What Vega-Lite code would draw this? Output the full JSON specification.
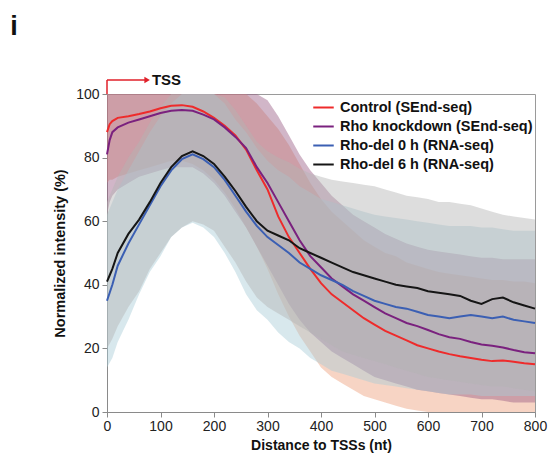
{
  "$schema": "https://vega.github.io/schema/vega-lite/v6.json",
  "width": 428,
  "height": 318,
  "autosize": {"type": "none"},
  "padding": {"left": 107, "top": 94, "right": 14, "bottom": 46},
  "background": "white",
  "config": {
    "font": "Liberation Sans",
    "view": {"stroke": "#9a9a9a", "strokeWidth": 1}
  },
  "resolve": {"scale": {"fill": "independent", "stroke": "independent"}, "legend": {"fill": "independent", "stroke": "independent"}},
  "datasets": {
    "curves": [
      {"s": "Control (SEnd-seq)", "x": 0, "y": 88, "lo": 72, "hi": 100},
      {"s": "Control (SEnd-seq)", "x": 5, "y": 90.5, "lo": 73, "hi": 100},
      {"s": "Control (SEnd-seq)", "x": 10, "y": 91.5, "lo": 73, "hi": 100},
      {"s": "Control (SEnd-seq)", "x": 20, "y": 92.5, "lo": 74, "hi": 100},
      {"s": "Control (SEnd-seq)", "x": 40, "y": 93, "lo": 75, "hi": 100},
      {"s": "Control (SEnd-seq)", "x": 60, "y": 93.7, "lo": 76, "hi": 100},
      {"s": "Control (SEnd-seq)", "x": 80, "y": 94.5, "lo": 77, "hi": 100},
      {"s": "Control (SEnd-seq)", "x": 100, "y": 95.5, "lo": 78, "hi": 100},
      {"s": "Control (SEnd-seq)", "x": 120, "y": 96.3, "lo": 79, "hi": 100},
      {"s": "Control (SEnd-seq)", "x": 140, "y": 96.5, "lo": 79, "hi": 100},
      {"s": "Control (SEnd-seq)", "x": 160, "y": 96, "lo": 78, "hi": 100},
      {"s": "Control (SEnd-seq)", "x": 180, "y": 94.5, "lo": 76, "hi": 100},
      {"s": "Control (SEnd-seq)", "x": 200, "y": 92.5, "lo": 73, "hi": 100},
      {"s": "Control (SEnd-seq)", "x": 220, "y": 90, "lo": 69, "hi": 100},
      {"s": "Control (SEnd-seq)", "x": 240, "y": 87, "lo": 64, "hi": 100},
      {"s": "Control (SEnd-seq)", "x": 260, "y": 82.5, "lo": 58, "hi": 100},
      {"s": "Control (SEnd-seq)", "x": 280, "y": 76, "lo": 52, "hi": 97},
      {"s": "Control (SEnd-seq)", "x": 300, "y": 70, "lo": 45, "hi": 93},
      {"s": "Control (SEnd-seq)", "x": 320, "y": 61.5, "lo": 37, "hi": 89},
      {"s": "Control (SEnd-seq)", "x": 340, "y": 55, "lo": 30, "hi": 84},
      {"s": "Control (SEnd-seq)", "x": 360, "y": 50, "lo": 24, "hi": 78},
      {"s": "Control (SEnd-seq)", "x": 380, "y": 45, "lo": 19, "hi": 72},
      {"s": "Control (SEnd-seq)", "x": 400, "y": 40.5, "lo": 14, "hi": 67},
      {"s": "Control (SEnd-seq)", "x": 420, "y": 37, "lo": 11, "hi": 63},
      {"s": "Control (SEnd-seq)", "x": 440, "y": 34.5, "lo": 9, "hi": 60},
      {"s": "Control (SEnd-seq)", "x": 460, "y": 32, "lo": 7, "hi": 57},
      {"s": "Control (SEnd-seq)", "x": 480, "y": 29.5, "lo": 5, "hi": 54},
      {"s": "Control (SEnd-seq)", "x": 500, "y": 27.5, "lo": 4, "hi": 52},
      {"s": "Control (SEnd-seq)", "x": 520, "y": 25.5, "lo": 3, "hi": 50},
      {"s": "Control (SEnd-seq)", "x": 540, "y": 24, "lo": 2, "hi": 49},
      {"s": "Control (SEnd-seq)", "x": 560, "y": 22.5, "lo": 1, "hi": 47},
      {"s": "Control (SEnd-seq)", "x": 580, "y": 21, "lo": 0.5, "hi": 46},
      {"s": "Control (SEnd-seq)", "x": 600, "y": 20, "lo": 0, "hi": 45},
      {"s": "Control (SEnd-seq)", "x": 620, "y": 19, "lo": 0, "hi": 44},
      {"s": "Control (SEnd-seq)", "x": 640, "y": 18.2, "lo": 0, "hi": 43.5},
      {"s": "Control (SEnd-seq)", "x": 660, "y": 17.5, "lo": 0, "hi": 43},
      {"s": "Control (SEnd-seq)", "x": 680, "y": 17, "lo": 0, "hi": 42.5},
      {"s": "Control (SEnd-seq)", "x": 700, "y": 16.4, "lo": 0, "hi": 42},
      {"s": "Control (SEnd-seq)", "x": 720, "y": 16, "lo": 0, "hi": 41.5},
      {"s": "Control (SEnd-seq)", "x": 740, "y": 16.2, "lo": 0, "hi": 41.5},
      {"s": "Control (SEnd-seq)", "x": 760, "y": 15.8, "lo": 0, "hi": 41},
      {"s": "Control (SEnd-seq)", "x": 780, "y": 15.3, "lo": 0, "hi": 41},
      {"s": "Control (SEnd-seq)", "x": 800, "y": 15, "lo": 0, "hi": 40.5},

      {"s": "Rho knockdown (SEnd-seq)", "x": 0, "y": 81, "lo": 62, "hi": 100},
      {"s": "Rho knockdown (SEnd-seq)", "x": 5, "y": 85.5, "lo": 66, "hi": 100},
      {"s": "Rho knockdown (SEnd-seq)", "x": 10, "y": 88, "lo": 68, "hi": 100},
      {"s": "Rho knockdown (SEnd-seq)", "x": 20, "y": 89.5, "lo": 70, "hi": 100},
      {"s": "Rho knockdown (SEnd-seq)", "x": 40, "y": 91, "lo": 72, "hi": 100},
      {"s": "Rho knockdown (SEnd-seq)", "x": 60, "y": 92, "lo": 74, "hi": 100},
      {"s": "Rho knockdown (SEnd-seq)", "x": 80, "y": 93, "lo": 75, "hi": 100},
      {"s": "Rho knockdown (SEnd-seq)", "x": 100, "y": 94, "lo": 76, "hi": 100},
      {"s": "Rho knockdown (SEnd-seq)", "x": 120, "y": 94.7, "lo": 77, "hi": 100},
      {"s": "Rho knockdown (SEnd-seq)", "x": 140, "y": 95, "lo": 77, "hi": 100},
      {"s": "Rho knockdown (SEnd-seq)", "x": 160, "y": 94.7, "lo": 77, "hi": 100},
      {"s": "Rho knockdown (SEnd-seq)", "x": 180, "y": 93.5, "lo": 75, "hi": 100},
      {"s": "Rho knockdown (SEnd-seq)", "x": 200, "y": 92, "lo": 72, "hi": 100},
      {"s": "Rho knockdown (SEnd-seq)", "x": 220, "y": 89.5, "lo": 68, "hi": 100},
      {"s": "Rho knockdown (SEnd-seq)", "x": 240, "y": 86.5, "lo": 63, "hi": 100},
      {"s": "Rho knockdown (SEnd-seq)", "x": 260, "y": 83, "lo": 58, "hi": 100},
      {"s": "Rho knockdown (SEnd-seq)", "x": 280, "y": 77, "lo": 52, "hi": 100},
      {"s": "Rho knockdown (SEnd-seq)", "x": 300, "y": 72, "lo": 46, "hi": 98},
      {"s": "Rho knockdown (SEnd-seq)", "x": 320, "y": 66, "lo": 40, "hi": 93},
      {"s": "Rho knockdown (SEnd-seq)", "x": 340, "y": 60, "lo": 34, "hi": 87},
      {"s": "Rho knockdown (SEnd-seq)", "x": 360, "y": 54, "lo": 29, "hi": 81},
      {"s": "Rho knockdown (SEnd-seq)", "x": 380, "y": 49, "lo": 25, "hi": 76},
      {"s": "Rho knockdown (SEnd-seq)", "x": 400, "y": 45.5, "lo": 22, "hi": 72},
      {"s": "Rho knockdown (SEnd-seq)", "x": 420, "y": 42, "lo": 19, "hi": 68},
      {"s": "Rho knockdown (SEnd-seq)", "x": 440, "y": 39.5, "lo": 17, "hi": 65},
      {"s": "Rho knockdown (SEnd-seq)", "x": 460, "y": 37, "lo": 15, "hi": 62},
      {"s": "Rho knockdown (SEnd-seq)", "x": 480, "y": 35, "lo": 13, "hi": 60},
      {"s": "Rho knockdown (SEnd-seq)", "x": 500, "y": 33, "lo": 11, "hi": 58},
      {"s": "Rho knockdown (SEnd-seq)", "x": 520, "y": 31, "lo": 10, "hi": 56},
      {"s": "Rho knockdown (SEnd-seq)", "x": 540, "y": 29.5, "lo": 9, "hi": 54.5},
      {"s": "Rho knockdown (SEnd-seq)", "x": 560, "y": 28, "lo": 8, "hi": 53},
      {"s": "Rho knockdown (SEnd-seq)", "x": 580, "y": 27, "lo": 7, "hi": 52},
      {"s": "Rho knockdown (SEnd-seq)", "x": 600, "y": 25.8, "lo": 6.5, "hi": 51},
      {"s": "Rho knockdown (SEnd-seq)", "x": 620, "y": 24.5, "lo": 6, "hi": 50.5},
      {"s": "Rho knockdown (SEnd-seq)", "x": 640, "y": 23.5, "lo": 5.5, "hi": 50},
      {"s": "Rho knockdown (SEnd-seq)", "x": 660, "y": 23, "lo": 5, "hi": 49.5},
      {"s": "Rho knockdown (SEnd-seq)", "x": 680, "y": 22, "lo": 4.5, "hi": 49},
      {"s": "Rho knockdown (SEnd-seq)", "x": 700, "y": 21.2, "lo": 4, "hi": 48.5},
      {"s": "Rho knockdown (SEnd-seq)", "x": 720, "y": 20.8, "lo": 4, "hi": 48.5},
      {"s": "Rho knockdown (SEnd-seq)", "x": 740, "y": 20.3, "lo": 3.5, "hi": 48},
      {"s": "Rho knockdown (SEnd-seq)", "x": 760, "y": 19.5, "lo": 3, "hi": 48},
      {"s": "Rho knockdown (SEnd-seq)", "x": 780, "y": 18.8, "lo": 3, "hi": 48},
      {"s": "Rho knockdown (SEnd-seq)", "x": 800, "y": 18.5, "lo": 3, "hi": 48},

      {"s": "Rho-del 0 h (RNA-seq)", "x": 0, "y": 35, "lo": 14, "hi": 62},
      {"s": "Rho-del 0 h (RNA-seq)", "x": 5, "y": 37.5, "lo": 15.5, "hi": 64},
      {"s": "Rho-del 0 h (RNA-seq)", "x": 10, "y": 40, "lo": 17, "hi": 66},
      {"s": "Rho-del 0 h (RNA-seq)", "x": 20, "y": 46, "lo": 22, "hi": 70},
      {"s": "Rho-del 0 h (RNA-seq)", "x": 40, "y": 53, "lo": 29, "hi": 76},
      {"s": "Rho-del 0 h (RNA-seq)", "x": 60, "y": 59, "lo": 37, "hi": 82},
      {"s": "Rho-del 0 h (RNA-seq)", "x": 80, "y": 65, "lo": 44, "hi": 88},
      {"s": "Rho-del 0 h (RNA-seq)", "x": 100, "y": 71, "lo": 49, "hi": 93},
      {"s": "Rho-del 0 h (RNA-seq)", "x": 120, "y": 76, "lo": 55, "hi": 97},
      {"s": "Rho-del 0 h (RNA-seq)", "x": 140, "y": 79.5, "lo": 58, "hi": 100},
      {"s": "Rho-del 0 h (RNA-seq)", "x": 160, "y": 81, "lo": 59.5, "hi": 100},
      {"s": "Rho-del 0 h (RNA-seq)", "x": 180, "y": 79.5, "lo": 58, "hi": 100},
      {"s": "Rho-del 0 h (RNA-seq)", "x": 200, "y": 77, "lo": 55, "hi": 100},
      {"s": "Rho-del 0 h (RNA-seq)", "x": 220, "y": 73, "lo": 50, "hi": 97},
      {"s": "Rho-del 0 h (RNA-seq)", "x": 240, "y": 68, "lo": 44, "hi": 92},
      {"s": "Rho-del 0 h (RNA-seq)", "x": 260, "y": 63, "lo": 37, "hi": 88},
      {"s": "Rho-del 0 h (RNA-seq)", "x": 280, "y": 58.5, "lo": 32, "hi": 83},
      {"s": "Rho-del 0 h (RNA-seq)", "x": 300, "y": 55, "lo": 29, "hi": 79},
      {"s": "Rho-del 0 h (RNA-seq)", "x": 320, "y": 52.5, "lo": 25, "hi": 76},
      {"s": "Rho-del 0 h (RNA-seq)", "x": 340, "y": 50, "lo": 22, "hi": 74},
      {"s": "Rho-del 0 h (RNA-seq)", "x": 360, "y": 47, "lo": 20, "hi": 71},
      {"s": "Rho-del 0 h (RNA-seq)", "x": 380, "y": 45, "lo": 17, "hi": 69},
      {"s": "Rho-del 0 h (RNA-seq)", "x": 400, "y": 43, "lo": 15, "hi": 67},
      {"s": "Rho-del 0 h (RNA-seq)", "x": 420, "y": 41.5, "lo": 13, "hi": 66},
      {"s": "Rho-del 0 h (RNA-seq)", "x": 440, "y": 40, "lo": 12, "hi": 65},
      {"s": "Rho-del 0 h (RNA-seq)", "x": 460, "y": 38, "lo": 11, "hi": 64},
      {"s": "Rho-del 0 h (RNA-seq)", "x": 480, "y": 36.5, "lo": 10, "hi": 63},
      {"s": "Rho-del 0 h (RNA-seq)", "x": 500, "y": 35, "lo": 9, "hi": 62},
      {"s": "Rho-del 0 h (RNA-seq)", "x": 520, "y": 34, "lo": 8.5, "hi": 61.5},
      {"s": "Rho-del 0 h (RNA-seq)", "x": 540, "y": 33, "lo": 8, "hi": 61},
      {"s": "Rho-del 0 h (RNA-seq)", "x": 560, "y": 32.5, "lo": 7.5, "hi": 60.5},
      {"s": "Rho-del 0 h (RNA-seq)", "x": 580, "y": 31.5, "lo": 7, "hi": 60},
      {"s": "Rho-del 0 h (RNA-seq)", "x": 600, "y": 30.5, "lo": 6.5, "hi": 59.5},
      {"s": "Rho-del 0 h (RNA-seq)", "x": 620, "y": 30, "lo": 6, "hi": 59},
      {"s": "Rho-del 0 h (RNA-seq)", "x": 640, "y": 29.5, "lo": 5.5, "hi": 58.5},
      {"s": "Rho-del 0 h (RNA-seq)", "x": 660, "y": 30, "lo": 5.5, "hi": 58.5},
      {"s": "Rho-del 0 h (RNA-seq)", "x": 680, "y": 30.5, "lo": 5.5, "hi": 58.5},
      {"s": "Rho-del 0 h (RNA-seq)", "x": 700, "y": 30, "lo": 5, "hi": 58},
      {"s": "Rho-del 0 h (RNA-seq)", "x": 720, "y": 29.5, "lo": 5, "hi": 58},
      {"s": "Rho-del 0 h (RNA-seq)", "x": 740, "y": 30, "lo": 5, "hi": 57.5},
      {"s": "Rho-del 0 h (RNA-seq)", "x": 760, "y": 29, "lo": 5, "hi": 57},
      {"s": "Rho-del 0 h (RNA-seq)", "x": 780, "y": 28.5, "lo": 5, "hi": 57},
      {"s": "Rho-del 0 h (RNA-seq)", "x": 800, "y": 28, "lo": 5, "hi": 57},

      {"s": "Rho-del 6 h (RNA-seq)", "x": 0, "y": 41, "lo": 20, "hi": 66},
      {"s": "Rho-del 6 h (RNA-seq)", "x": 5, "y": 43, "lo": 21.5, "hi": 68},
      {"s": "Rho-del 6 h (RNA-seq)", "x": 10, "y": 45, "lo": 23, "hi": 70},
      {"s": "Rho-del 6 h (RNA-seq)", "x": 20, "y": 50, "lo": 27, "hi": 74},
      {"s": "Rho-del 6 h (RNA-seq)", "x": 40, "y": 56, "lo": 33, "hi": 80},
      {"s": "Rho-del 6 h (RNA-seq)", "x": 60, "y": 60.5, "lo": 38, "hi": 85},
      {"s": "Rho-del 6 h (RNA-seq)", "x": 80, "y": 66, "lo": 45, "hi": 91},
      {"s": "Rho-del 6 h (RNA-seq)", "x": 100, "y": 72, "lo": 50, "hi": 96},
      {"s": "Rho-del 6 h (RNA-seq)", "x": 120, "y": 77, "lo": 55, "hi": 100},
      {"s": "Rho-del 6 h (RNA-seq)", "x": 140, "y": 80.5, "lo": 58, "hi": 100},
      {"s": "Rho-del 6 h (RNA-seq)", "x": 160, "y": 82, "lo": 60, "hi": 100},
      {"s": "Rho-del 6 h (RNA-seq)", "x": 180, "y": 80.5, "lo": 59, "hi": 100},
      {"s": "Rho-del 6 h (RNA-seq)", "x": 200, "y": 78, "lo": 57, "hi": 100},
      {"s": "Rho-del 6 h (RNA-seq)", "x": 220, "y": 74, "lo": 52, "hi": 99},
      {"s": "Rho-del 6 h (RNA-seq)", "x": 240, "y": 69.5, "lo": 47, "hi": 95},
      {"s": "Rho-del 6 h (RNA-seq)", "x": 260, "y": 64.5, "lo": 41, "hi": 90},
      {"s": "Rho-del 6 h (RNA-seq)", "x": 280, "y": 60, "lo": 36, "hi": 85},
      {"s": "Rho-del 6 h (RNA-seq)", "x": 300, "y": 57, "lo": 33, "hi": 82},
      {"s": "Rho-del 6 h (RNA-seq)", "x": 320, "y": 55.5, "lo": 31, "hi": 80},
      {"s": "Rho-del 6 h (RNA-seq)", "x": 340, "y": 54, "lo": 29, "hi": 78.5},
      {"s": "Rho-del 6 h (RNA-seq)", "x": 360, "y": 51.5, "lo": 27, "hi": 76.5},
      {"s": "Rho-del 6 h (RNA-seq)", "x": 380, "y": 50, "lo": 25, "hi": 75},
      {"s": "Rho-del 6 h (RNA-seq)", "x": 400, "y": 48.5, "lo": 23, "hi": 74},
      {"s": "Rho-del 6 h (RNA-seq)", "x": 420, "y": 47, "lo": 21, "hi": 73},
      {"s": "Rho-del 6 h (RNA-seq)", "x": 440, "y": 45.5, "lo": 19, "hi": 72.5},
      {"s": "Rho-del 6 h (RNA-seq)", "x": 460, "y": 44, "lo": 18, "hi": 72},
      {"s": "Rho-del 6 h (RNA-seq)", "x": 480, "y": 43, "lo": 17, "hi": 71.5},
      {"s": "Rho-del 6 h (RNA-seq)", "x": 500, "y": 42, "lo": 16, "hi": 71},
      {"s": "Rho-del 6 h (RNA-seq)", "x": 520, "y": 41, "lo": 15, "hi": 70},
      {"s": "Rho-del 6 h (RNA-seq)", "x": 540, "y": 40, "lo": 14, "hi": 69},
      {"s": "Rho-del 6 h (RNA-seq)", "x": 560, "y": 39.5, "lo": 13, "hi": 68},
      {"s": "Rho-del 6 h (RNA-seq)", "x": 580, "y": 39, "lo": 12, "hi": 67.5},
      {"s": "Rho-del 6 h (RNA-seq)", "x": 600, "y": 38, "lo": 11, "hi": 67},
      {"s": "Rho-del 6 h (RNA-seq)", "x": 620, "y": 37.5, "lo": 10.5, "hi": 66},
      {"s": "Rho-del 6 h (RNA-seq)", "x": 640, "y": 37, "lo": 10, "hi": 66},
      {"s": "Rho-del 6 h (RNA-seq)", "x": 660, "y": 36.5, "lo": 9.5, "hi": 65.5},
      {"s": "Rho-del 6 h (RNA-seq)", "x": 680, "y": 35, "lo": 9, "hi": 65},
      {"s": "Rho-del 6 h (RNA-seq)", "x": 700, "y": 34, "lo": 8.5, "hi": 64},
      {"s": "Rho-del 6 h (RNA-seq)", "x": 720, "y": 35.5, "lo": 8, "hi": 63},
      {"s": "Rho-del 6 h (RNA-seq)", "x": 740, "y": 36, "lo": 8, "hi": 62},
      {"s": "Rho-del 6 h (RNA-seq)", "x": 760, "y": 34.5, "lo": 7.5, "hi": 61.5},
      {"s": "Rho-del 6 h (RNA-seq)", "x": 780, "y": 33.5, "lo": 7, "hi": 61},
      {"s": "Rho-del 6 h (RNA-seq)", "x": 800, "y": 32.5, "lo": 6.5, "hi": 60.5}
    ]
  },
  "layer": [
    {
      "data": {"name": "curves"},
      "mark": {"type": "area", "opacity": 0.45, "interpolate": "linear"},
      "encoding": {
        "x": {"field": "x", "type": "quantitative", "scale": {"domain": [0, 800], "nice": false},
          "axis": {"title": "Distance to TSSs (nt)", "values": [0, 100, 200, 300, 400, 500, 600, 700, 800], "grid": false,
            "labelFontSize": 14, "labelColor": "#222", "titleFontSize": 14, "titleFontWeight": "bold", "titleColor": "#111",
            "domainColor": "#8a8a8a", "tickColor": "#8a8a8a", "tickSize": 5, "labelPadding": 2, "titlePadding": 5, "labelFlush": false}},
        "y": {"field": "lo", "type": "quantitative", "scale": {"domain": [0, 100], "nice": false},
          "axis": {"title": "Normalized intensity (%)", "values": [0, 20, 40, 60, 80, 100], "grid": false,
            "labelFontSize": 14, "labelColor": "#222", "titleFontSize": 14.5, "titleFontWeight": "bold", "titleColor": "#111",
            "domainColor": "#8a8a8a", "tickColor": "#8a8a8a", "tickSize": 5, "labelPadding": 3, "titlePadding": 8}},
        "y2": {"field": "hi"},
        "fill": {"field": "s", "type": "nominal", "legend": null,
          "scale": {"domain": ["Control (SEnd-seq)", "Rho knockdown (SEnd-seq)", "Rho-del 0 h (RNA-seq)", "Rho-del 6 h (RNA-seq)"],
            "range": ["#eea07c", "#9a5e86", "#a9cbd6", "#b3b3b3"]}}
      }
    },
    {
      "data": {"name": "curves"},
      "mark": {"type": "line", "strokeWidth": 2},
      "encoding": {
        "x": {"field": "x", "type": "quantitative"},
        "y": {"field": "y", "type": "quantitative"},
        "stroke": {"field": "s", "type": "nominal",
          "scale": {"domain": ["Control (SEnd-seq)", "Rho knockdown (SEnd-seq)", "Rho-del 0 h (RNA-seq)", "Rho-del 6 h (RNA-seq)"],
            "range": ["#ee2b2b", "#7a217e", "#3b5fb3", "#151515"]},
          "legend": {"title": null, "orient": "top-right", "offset": 2, "symbolType": "stroke", "symbolSize": 420,
            "symbolStrokeWidth": 2, "labelFontSize": 14.5, "labelFontWeight": "bold", "labelColor": "#111", "rowPadding": 1, "labelOffset": 5, "labelLimit": 300, "padding": 0}}
      }
    },
    {
      "data": {"values": [{}]},
      "mark": {"type": "rule", "color": "#e0202a", "strokeWidth": 1.5},
      "encoding": {"x": {"datum": 0}, "y": {"datum": 100}, "y2": {"datum": 104.4}}
    },
    {
      "data": {"values": [{}]},
      "mark": {"type": "rule", "color": "#e0202a", "strokeWidth": 1.5},
      "encoding": {"x": {"datum": 0}, "x2": {"datum": 72}, "y": {"datum": 104.4}}
    },
    {
      "data": {"values": [{}]},
      "mark": {"type": "point", "shape": "triangle-right", "filled": true, "color": "#e0202a", "size": 40, "opacity": 1},
      "encoding": {"x": {"datum": 75}, "y": {"datum": 104.4}}
    },
    {
      "data": {"values": [{}]},
      "mark": {"type": "text", "text": "TSS", "align": "left", "baseline": "middle", "fontSize": 15, "fontWeight": "bold", "color": "#111"},
      "encoding": {"x": {"datum": 84}, "y": {"datum": 104.4}}
    },
    {
      "data": {"values": [{}]},
      "mark": {"type": "text", "text": "i", "align": "center", "baseline": "alphabetic", "fontSize": 27, "fontWeight": "bold", "color": "#111"},
      "encoding": {"x": {"datum": -174}, "y": {"datum": 118.6}}
    }
  ]
}
